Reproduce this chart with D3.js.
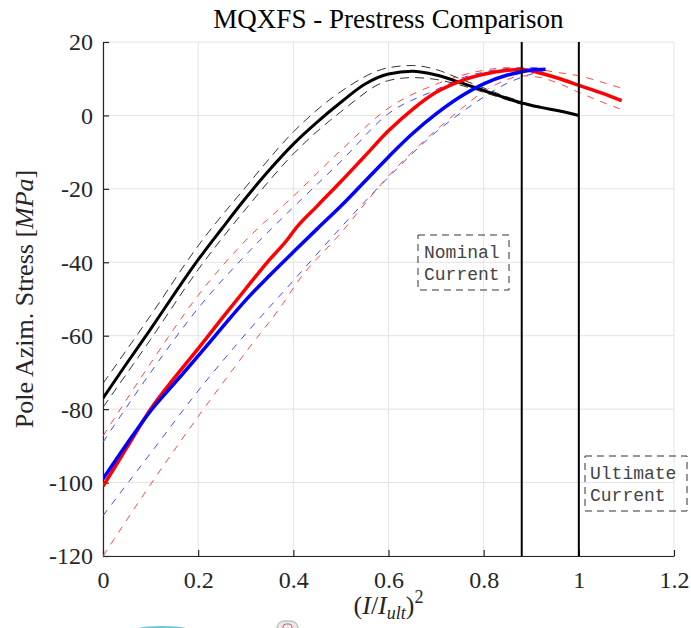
<!DOCTYPE html>
<html>
<head>
<meta charset="utf-8">
<script src="https://cdn.jsdelivr.net/npm/d3@7"></script>
<style>
  body { margin: 0; background: #fff; }
  svg { display: block; }
</style>
</head>
<body>
<svg id="chart" width="691" height="628"></svg>
<script>
// ---------------- data ----------------
const xTicks = [0, 0.2, 0.4, 0.6, 0.8, 1, 1.2];
const xTickLabels = ["0", "0.2", "0.4", "0.6", "0.8", "1", "1.2"];
const yTicks = [-120, -100, -80, -60, -40, -20, 0, 20];
const yTickLabels = ["-120", "-100", "-80", "-60", "-40", "-20", "0", "20"];

// black: measured (solid) with upper/lower envelopes
const blackX  = [0, 0.05, 0.1, 0.15, 0.2, 0.25, 0.3, 0.35, 0.4, 0.45, 0.5, 0.55, 0.6, 0.65, 0.7, 0.75, 0.8, 0.85, 0.88, 0.92, 0.96, 1.0];
const blackY  = [-77, -67.5, -58.2, -48.6, -39.3, -30.8, -22.5, -14.8, -7.8, -1.8, 3.6, 8.5, 11.3, 12, 11, 9, 6.8, 4.6, 3.4, 2.2, 1.2, 0];
const blackUpX = [0, 0.1, 0.2, 0.3, 0.4, 0.5, 0.6, 0.65, 0.7, 0.75, 0.8, 0.85, 0.88];
const blackUpY = [-73, -54.5, -35.5, -19.5, -4.5, 6.5, 13, 13.6, 12.5, 10, 7.5, 5, 3.8];
const blackLoX = [0, 0.1, 0.2, 0.3, 0.4, 0.5, 0.6, 0.65, 0.7, 0.75, 0.8, 0.85, 0.88];
const blackLoY = [-79.5, -61, -42, -25.5, -10.5, 1, 9.5, 10.3, 9.8, 8.3, 6.3, 4.2, 3.0];

// red
const redX  = [0, 0.05, 0.1, 0.15, 0.2, 0.25, 0.3, 0.35, 0.39, 0.4, 0.45, 0.5, 0.55, 0.6, 0.65, 0.7, 0.75, 0.8, 0.85, 0.88, 0.92, 0.96, 1.0, 1.05, 1.09];
const redY  = [-101, -90.5, -80, -71.5, -63.5, -55.3, -47.2, -39.3, -33.4, -31.6, -24.7, -18, -11.1, -4.2, 1.6, 6.3, 9.3, 11.2, 12.3, 12.5, 11.5, 10, 8.2, 6, 4];
const redUpX = [0, 0.1, 0.2, 0.3, 0.4, 0.5, 0.6, 0.7, 0.8, 0.85, 0.9, 0.95, 1.0, 1.05, 1.09];
const redUpY = [-87.3, -67.5, -49, -34, -22, -9.5, 2, 8.5, 12.3, 13, 12.8, 11.8, 10.8, 9, 7.4];
const redLoX = [0, 0.1, 0.2, 0.3, 0.39, 0.4, 0.5, 0.6, 0.7, 0.75, 0.8, 0.85, 0.88, 0.92, 0.96, 1.0, 1.04, 1.09];
const redLoY = [-120, -100.5, -82, -64.5, -49, -47, -32, -16.5, -4, 1.5, 6.5, 9.8, 10.8, 10.3, 8.6, 6.3, 4.1, 1.6];

// blue
const blueX  = [0, 0.05, 0.1, 0.15, 0.2, 0.25, 0.3, 0.35, 0.4, 0.45, 0.5, 0.55, 0.6, 0.65, 0.7, 0.75, 0.8, 0.85, 0.88, 0.9, 0.93];
const blueY  = [-99, -89.5, -80.5, -73, -65.5, -57.8, -50.3, -43.6, -37.2, -30.9, -24.7, -18, -11.3, -5, 0.4, 5, 8.6, 11, 11.9, 12.4, 12.6];
const blueUpX = [0, 0.1, 0.2, 0.3, 0.4, 0.5, 0.6, 0.7, 0.75, 0.8, 0.85, 0.88, 0.92];
const blueUpY = [-89, -70, -52.5, -38, -25, -12.5, 0.5, 7, 10, 11.8, 12.8, 13, 13];
const blueLoX = [0, 0.1, 0.2, 0.3, 0.4, 0.5, 0.6, 0.7, 0.75, 0.8, 0.85, 0.88, 0.93];
const blueLoY = [-109, -92, -75, -59.5, -45, -30.5, -16.8, -4.5, 0.5, 5, 8.8, 10.4, 12.3];

const vLines = [0.88, 1.0];
const noteNominal = ["Nominal", "Current"];
const noteUltimate = ["Ultimate", "Current"];

// ---------------- layout ----------------
const svg = d3.select("#chart");
const L = 103, R = 674, T = 42, B = 556;
const x = d3.scaleLinear().domain([0, 1.2]).range([L, R]);
const y = d3.scaleLinear().domain([-120, 20]).range([B, T]);
const serif = "'Liberation Serif', 'DejaVu Serif', serif";
const mono = "'Liberation Mono', 'DejaVu Sans Mono', monospace";

// grid
const grid = svg.append("g");
grid.selectAll("line.gx").data(xTicks).join("line")
  .attr("x1", d => x(d)).attr("x2", d => x(d)).attr("y1", T).attr("y2", B)
  .attr("stroke", "#e3e3e3").attr("stroke-width", 1);
grid.selectAll("line.gy").data(yTicks).join("line")
  .attr("x1", L).attr("x2", R).attr("y1", d => y(d)).attr("y2", d => y(d))
  .attr("stroke", "#e3e3e3").attr("stroke-width", 1);

// axes
const xAxis = d3.axisBottom(x).tickValues(xTicks).tickFormat((d, i) => xTickLabels[i]).tickSizeInner(-6).tickSizeOuter(0).tickPadding(15);
const yAxis = d3.axisLeft(y).tickValues(yTicks).tickFormat((d, i) => yTickLabels[i]).tickSizeInner(-6).tickSizeOuter(0).tickPadding(10);
const gx = svg.append("g").attr("transform", `translate(0,${B})`).call(xAxis);
const gy = svg.append("g").attr("transform", `translate(${L},0)`).call(yAxis);
[gx, gy].forEach(g => {
  g.selectAll("path.domain").attr("stroke", "#262626").attr("stroke-width", 1.2);
  g.selectAll(".tick line").attr("stroke", "#262626").attr("stroke-width", 1.2);
  g.selectAll(".tick text").attr("fill", "#262626").style("font-family", serif).style("font-size", "24px");
});
gx.selectAll(".tick text").attr("dy", "0.71em");
gy.selectAll(".tick text").attr("dy", "0.33em");

// clip
svg.append("clipPath").attr("id", "clip").append("rect").attr("x", L).attr("y", T - 2).attr("width", R - L).attr("height", B - T + 2);
const plot = svg.append("g").attr("clip-path", "url(#clip)");

const line = d3.line().x(d => x(d[0])).y(d => y(d[1])).curve(d3.curveMonotoneX);
const zip = (a, b) => a.map((v, i) => [v, b[i]]);

function drawDashed(xs, ys, color, w, dash) {
  plot.append("path").datum(zip(xs, ys)).attr("d", line)
    .attr("fill", "none").attr("stroke", color).attr("stroke-width", w)
    .attr("stroke-dasharray", dash);
}
function drawSolid(xs, ys, color, w) {
  plot.append("path").datum(zip(xs, ys)).attr("d", line)
    .attr("fill", "none").attr("stroke", color).attr("stroke-width", w)
    .attr("stroke-linejoin", "round");
}

drawDashed(blueUpX, blueUpY, "#4a4aff", 1, "7,7");
drawDashed(blueLoX, blueLoY, "#4a4aff", 1, "7,7");
drawDashed(redUpX, redUpY, "#ff4a4a", 1, "7,7");
drawDashed(redLoX, redLoY, "#ff4a4a", 1, "7,7");
drawDashed(blackUpX, blackUpY, "#333", 1, "9,6");
drawDashed(blackLoX, blackLoY, "#333", 1, "9,6");

drawSolid(blackX, blackY, "#000", 3);
drawSolid(redX, redY, "#ff0000", 3.5);
drawSolid(blueX, blueY, "#0000ff", 3.5);

// vertical markers
svg.selectAll("line.v").data(vLines).join("line")
  .attr("x1", d => x(d)).attr("x2", d => x(d)).attr("y1", T).attr("y2", B)
  .attr("stroke", "#000").attr("stroke-width", 2);

// annotation boxes
function note(lines, bx, by, bw, bh, tx) {
  const g = svg.append("g");
  g.append("rect").attr("x", bx).attr("y", by).attr("width", bw).attr("height", bh)
    .attr("fill", "none").attr("stroke", "#333").attr("stroke-width", 1).attr("stroke-dasharray", "7,5");
  lines.forEach((t, i) => {
    g.append("text").attr("x", tx).attr("y", by + 22.5 + i * 22.5)
      .style("font-family", mono).style("font-size", "18px").attr("fill", "#444").text(t);
  });
}
note(noteNominal, 418, 235, 91, 55, 424);
note(noteUltimate, 585, 456, 102, 55, 590);

// title
svg.append("text").attr("x", (L + R) / 2).attr("y", 28).attr("text-anchor", "middle")
  .style("font-family", serif).style("font-size", "27px").attr("fill", "#000")
  .text("MQXFS - Prestress Comparison");

// y label
const yl = svg.append("text").attr("transform", `translate(33,${(T + B) / 2}) rotate(-90)`)
  .attr("text-anchor", "middle").style("font-family", serif).style("font-size", "26px").attr("fill", "#262626");
yl.append("tspan").text("Pole Azim. Stress [");
yl.append("tspan").style("font-style", "italic").text("MPa");
yl.append("tspan").text("]");

// x label
const xl = svg.append("text").attr("x", (L + R) / 2).attr("y", 614).attr("text-anchor", "middle")
  .style("font-family", serif).style("font-size", "26px").attr("fill", "#262626");
xl.append("tspan").text("(");
xl.append("tspan").style("font-style", "italic").text("I");
xl.append("tspan").text("/");
xl.append("tspan").style("font-style", "italic").text("I");
xl.append("tspan").style("font-style", "italic").style("font-size", "18px").attr("dy", 5).text("ult");
xl.append("tspan").attr("dy", -5).text(")");
xl.append("tspan").style("font-size", "18px").attr("dy", -11).text("2");

// bottom decorative fragments (cropped artifacts)
svg.append("ellipse").attr("cx", 162).attr("cy", 634).attr("rx", 36).attr("ry", 8).attr("fill", "#6cc5e0");
svg.append("rect").attr("x", 277).attr("y", 621).attr("width", 21).attr("height", 14).attr("rx", 7)
  .attr("fill", "#e8e8e8").attr("stroke", "#aaa");
svg.append("rect").attr("x", 283).attr("y", 624).attr("width", 9).attr("height", 8).attr("rx", 3)
  .attr("fill", "none").attr("stroke", "#e06060");
</script>
</body>
</html>
